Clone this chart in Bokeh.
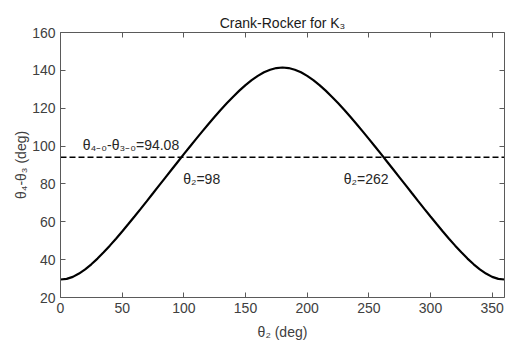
from bokeh.plotting import figure
from bokeh.models import Range1d, LinearAxis, Label, FixedTicker
from bokeh.embed import file_html
from bokeh.resources import INLINE

# crank angle theta2 (deg)
theta2 = [0, 5, 10, 15, 20, 25, 30, 35, 40, 45, 50, 55, 60, 65, 70, 75, 80, 85, 90,
          95, 100, 105, 110, 115, 120, 125, 130, 135, 140, 145, 150, 155, 160, 165, 170,
          175, 180, 185, 190, 195, 200, 205, 210, 215, 220, 225, 230, 235, 240, 245, 250,
          255, 260, 265, 270, 275, 280, 285, 290, 295, 300, 305, 310, 315, 320, 325, 330,
          335, 340, 345, 350, 355, 360]
# theta4 - theta3 (deg)
mu = [29.5, 29.85, 30.9, 32.63, 34.85, 37.54, 40.55, 43.88, 47.4, 51.08, 54.9, 58.8,
      62.8, 66.85, 70.94, 75.06, 79.2, 83.34, 87.48, 91.61, 95.72, 99.79, 103.8, 107.78,
      111.7, 115.48, 119.2, 122.72, 126.1, 129.28, 132.2, 134.84, 137.1, 138.97, 140.35,
      141.22, 141.5, 141.22, 140.35, 138.97, 137.1, 134.84, 132.2, 129.28, 126.1, 122.72,
      119.2, 115.48, 111.7, 107.78, 103.8, 99.79, 95.72, 91.61, 87.48, 83.34, 79.2, 75.06,
      70.94, 66.85, 62.8, 58.8, 54.9, 51.08, 47.4, 43.88, 40.55, 37.54, 34.85, 32.63,
      30.9, 29.85, 29.5]
ref_x = [0, 360]
ref_y = [94.08, 94.08]
x_ticks = [0, 50, 100, 150, 200, 250, 300, 350]
y_ticks = [20, 40, 60, 80, 100, 120, 140, 160]
x_lim = [0, 360]
y_lim = [20, 160]

FONT = "Liberation Sans"
AX = "#5a5a5a"
TXT = "#404040"

p = figure(width=508, height=342, output_backend="svg", toolbar_location=None,
           x_range=Range1d(x_lim[0], x_lim[1]), y_range=Range1d(y_lim[0], y_lim[1]),
           min_border_left=60, min_border_right=4, min_border_top=32, min_border_bottom=43,
           title="Crank-Rocker for K₃")
p.outline_line_color = None
p.grid.visible = False
p.background_fill_color = "white"
p.border_fill_color = "white"

p.title.align = "center"
p.title.text_font = FONT
p.title.text_font_size = "14px"
p.title.text_font_style = "normal"
p.title.text_color = "#1a1a1a"
p.title.standoff = 4

def style_axis(ax, ticks, labels=True):
    ax.ticker = FixedTicker(ticks=ticks)
    ax.axis_line_color = AX
    ax.axis_line_width = 1
    ax.major_tick_line_color = AX
    ax.major_tick_in = 5
    ax.major_tick_out = 0
    ax.minor_tick_line_color = None
    ax.major_label_text_font = FONT
    ax.major_label_text_font_size = "14px"
    ax.major_label_text_color = TXT
    ax.axis_label_text_font = FONT
    ax.axis_label_text_font_size = "14px"
    ax.axis_label_text_font_style = "normal"
    ax.axis_label_text_color = TXT
    if not labels:
        ax.major_label_text_font_size = "1px"
        ax.major_label_text_color = None
        ax.major_label_standoff = 0

p.add_layout(LinearAxis(), "above")
p.add_layout(LinearAxis(), "right")
for ax in p.below:
    style_axis(ax, x_ticks)
    ax.major_label_standoff = 5
    ax.axis_label = "θ₂ (deg)"
    ax.axis_label_standoff = 8
for ax in p.left:
    style_axis(ax, y_ticks)
    ax.major_label_standoff = 5
    ax.axis_label = "θ₄-θ₃ (deg)"
    ax.axis_label_standoff = 0
for ax in p.above:
    style_axis(ax, x_ticks, labels=False)
for ax in p.right:
    style_axis(ax, y_ticks, labels=False)

p.line(theta2, mu, line_color="black", line_width=2.2)
p.line(ref_x, ref_y, line_color="black", line_width=1.4, line_dash="6 3")

def lab(x, y, text):
    p.add_layout(Label(x=x, y=y, text=text, text_font=FONT, text_font_size="14px",
                       text_color="#262626", text_align="left",
                       text_baseline="alphabetic"))

lab(18, 100.7, "θ₄₋₀-θ₃₋₀=94.08")
lab(99.5, 82.4, "θ₂=98")
lab(229.7, 82.4, "θ₂=262")

open("out.html", "w").write(file_html(p, INLINE))
